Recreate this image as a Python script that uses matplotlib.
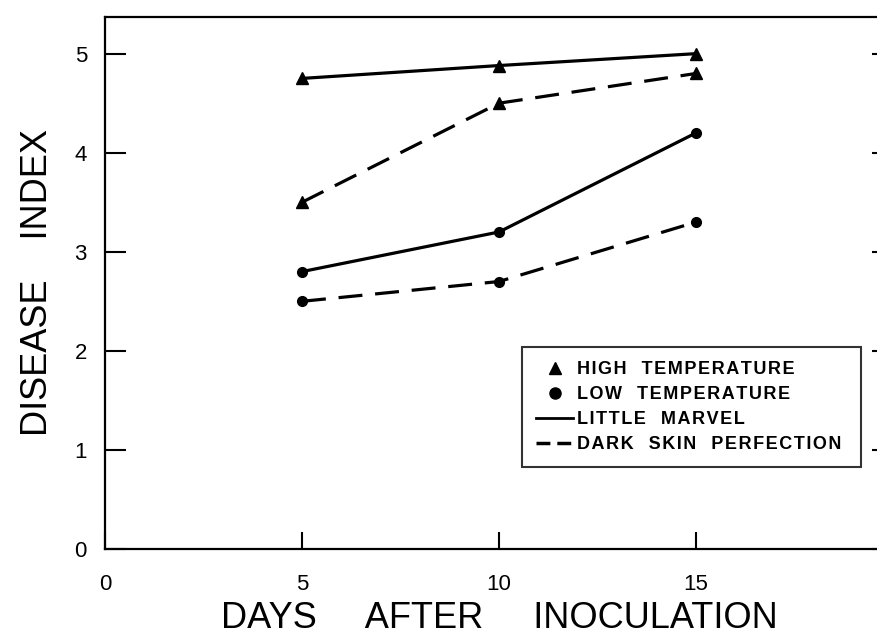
import matplotlib
matplotlib.use("Agg")
import matplotlib.pyplot as plt
from matplotlib.lines import Line2D

plt.rcParams['font.family'] = ['Liberation Sans', 'DejaVu Sans']

days = [5, 10, 15]
high_little_marvel = [4.75, 4.88, 5.0]
high_dark_skin = [3.5, 4.5, 4.8]
low_little_marvel = [2.8, 3.2, 4.2]
low_dark_skin = [2.5, 2.7, 3.3]

x_ticks = [0, 5, 10, 15]
y_ticks = [0, 1, 2, 3, 4, 5]
legend_labels = ["HIGH TEMPERATURE", "LOW TEMPERATURE", "LITTLE MARVEL", "DARK SKIN PERFECTION"]


def spaced(label):
    return "   ".join("\u200a".join(w) for w in label.split())


fig = plt.figure(figsize=(8.78, 6.35), dpi=100)
ax = fig.add_axes([105/878, 86/635, 788/878, 532/635])

lw = 2.3
dash = (0, (7.5, 4))
ax.plot(days, high_little_marvel, color='black', lw=lw, marker='^', ms=9)
ax.plot(days, high_dark_skin, color='black', lw=lw, marker='^', ms=9, linestyle=dash)
ax.plot(days, low_little_marvel, color='black', lw=lw, marker='o', ms=7)
ax.plot(days, low_dark_skin, color='black', lw=lw, marker='o', ms=7, linestyle=dash)

ax.set_xlim(0, 20)
ax.set_ylim(0, 5.37)
ax.set_xticks(x_ticks)
ax.set_yticks(y_ticks)
ax.tick_params(axis='y', direction='in', length=15, width=1.5, pad=13, labelsize=16, right=True)
ax.tick_params(axis='x', direction='in', length=12, width=1.5, pad=18, labelsize=16)
for s in ax.spines.values():
    s.set_linewidth(1.6)

ax.set_xlabel("DAYS     AFTER     INOCULATION", fontsize=26, labelpad=4)
ax.set_ylabel("DISEASE    INDEX", fontsize=26, labelpad=14)

handles = [
    Line2D([], [], color='black', marker='^', linestyle='none', ms=8),
    Line2D([], [], color='black', marker='o', linestyle='none', ms=8),
    Line2D([], [], color='black', lw=2),
    Line2D([], [], color='black', lw=2.5, linestyle=(0, (4, 2))),
]
x0 = (522 - 105) / 788
y0 = (549 - 464) / 532
leg = ax.legend(handles, [spaced(l) for l in legend_labels], loc='upper left',
                bbox_to_anchor=(x0, y0, (861 - 522) / 788, (464 - 347) / 532),
                mode='expand',
                frameon=True, fancybox=False, edgecolor='black',
                prop={'family': ['Liberation Sans', 'DejaVu Sans'], 'weight': 'bold', 'size': 13},
                handlelength=2.05, handletextpad=0.2, labelspacing=0.44,
                borderpad=0.78, borderaxespad=0)
leg.get_frame().set_linewidth(1.5)

fig.savefig("out.png", dpi=100)
